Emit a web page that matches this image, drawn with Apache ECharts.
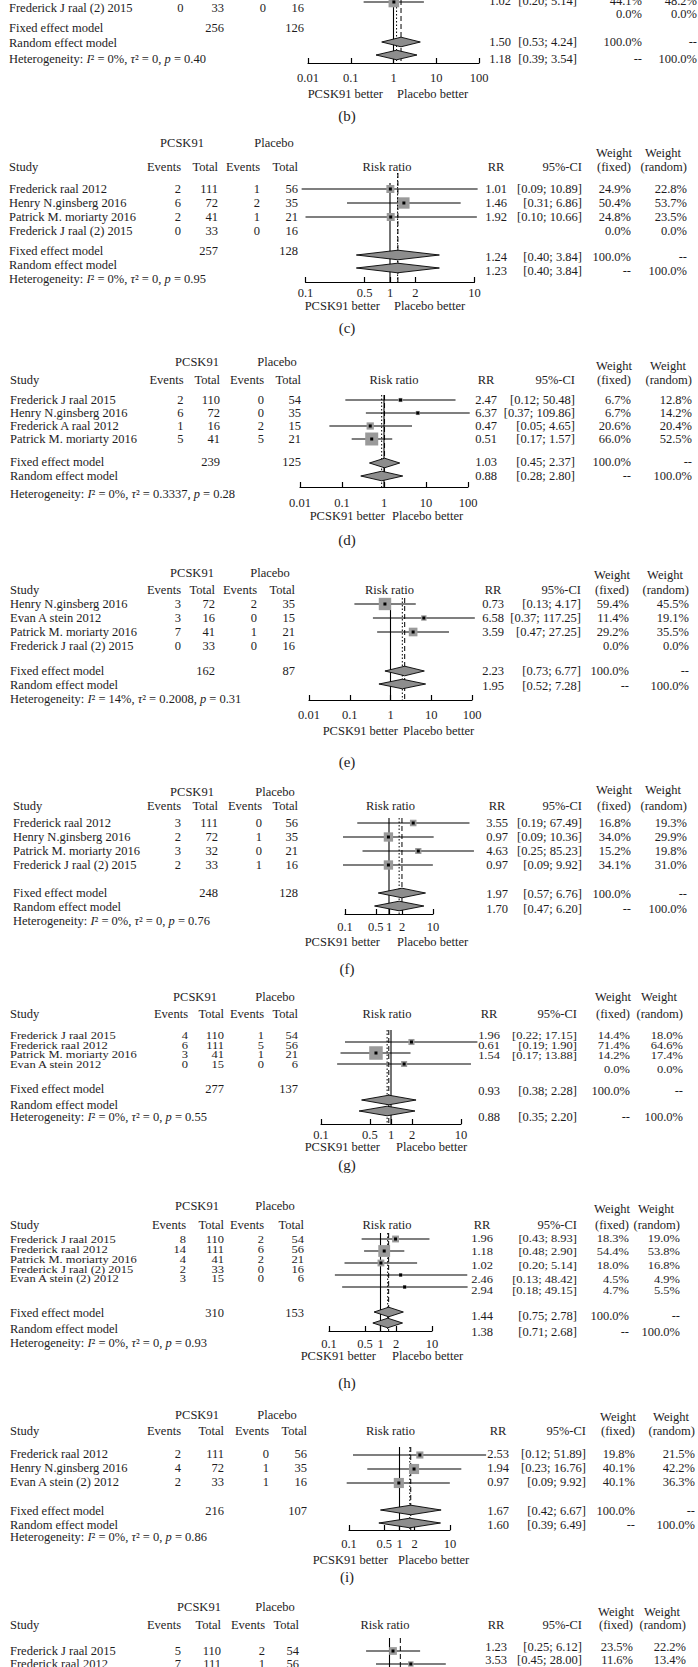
<!DOCTYPE html>
<html><head><meta charset="utf-8">
<script src="https://cdn.jsdelivr.net/npm/echarts@6/dist/echarts.min.js"></script>
<style>html,body{margin:0;padding:0;background:#fff}#chart{width:698px;height:1667px}</style>
</head><body><div id="chart"></div>
<script>
// ===================== DATA =====================
const ticksWide = [0.01, 0.1, 1, 10, 100];
const ticksNarrow = [0.1, 0.5, 1, 2, 10];
// row: [study, eventsPCSK, totalPCSK, eventsPlacebo, totalPlacebo, RR, lo, hi, weightFixed, weightRandom]
const rowsB = [
  [null, null, null, null, null, 1.02, 0.20, 5.14, 44.1, 48.2],
  ['Frederick J raal (2) 2015', 0, 33, 0, 16, null, null, null, 0.0, 0.0]
];
const totalsB = [256, 126];
const fixedB = [1.50, 0.53, 4.24];
const randomB = [1.18, 0.39, 3.54];
const hetB = ['0%', '0', '0.40'];

const rowsC = [
  ['Frederick raal 2012', 2, 111, 1, 56, 1.01, 0.09, 10.89, 24.9, 22.8],
  ['Henry N.ginsberg 2016', 6, 72, 2, 35, 1.46, 0.31, 6.86, 50.4, 53.7],
  ['Patrick M. moriarty 2016', 2, 41, 1, 21, 1.92, 0.10, 10.66, 24.8, 23.5],
  ['Frederick J raal (2) 2015', 0, 33, 0, 16, null, null, null, 0.0, 0.0]
];
const markEstC = [1.01, 1.46, 1.02, null]; // square positions as drawn in the picture
const totalsC = [257, 128];
const fixedC = [1.24, 0.40, 3.84];
const randomC = [1.23, 0.40, 3.84];
const hetC = ['0%', '0', '0.95'];

const rowsD = [
  ['Frederick J raal 2015', 2, 110, 0, 54, 2.47, 0.12, 50.48, 6.7, 12.8],
  ['Henry N.ginsberg 2016', 6, 72, 0, 35, 6.37, 0.37, 109.86, 6.7, 14.2],
  ['Frederick A raal 2012', 1, 16, 2, 15, 0.47, 0.05, 4.65, 20.6, 20.4],
  ['Patrick M. moriarty 2016', 5, 41, 5, 21, 0.51, 0.17, 1.57, 66.0, 52.5]
];
const totalsD = [239, 125];
const fixedD = [1.03, 0.45, 2.37];
const randomD = [0.88, 0.28, 2.80];
const hetD = ['0%', '0.3337', '0.28'];

const rowsE = [
  ['Henry N.ginsberg 2016', 3, 72, 2, 35, 0.73, 0.13, 4.17, 59.4, 45.5],
  ['Evan A stein 2012', 3, 16, 0, 15, 6.58, 0.37, 117.25, 11.4, 19.1],
  ['Patrick M. moriarty 2016', 7, 41, 1, 21, 3.59, 0.47, 27.25, 29.2, 35.5],
  ['Frederick J raal (2) 2015', 0, 33, 0, 16, null, null, null, 0.0, 0.0]
];
const totalsE = [162, 87];
const fixedE = [2.23, 0.73, 6.77];
const randomE = [1.95, 0.52, 7.28];
const hetE = ['14%', '0.2008', '0.31'];

const rowsF = [
  ['Frederick raal 2012', 3, 111, 0, 56, 3.55, 0.19, 67.49, 16.8, 19.3],
  ['Henry N.ginsberg 2016', 2, 72, 1, 35, 0.97, 0.09, 10.36, 34.0, 29.9],
  ['Patrick M. moriarty 2016', 3, 32, 0, 21, 4.63, 0.25, 85.23, 15.2, 19.8],
  ['Frederick J raal (2) 2015', 2, 33, 1, 16, 0.97, 0.09, 9.92, 34.1, 31.0]
];
const totalsF = [248, 128];
const fixedF = [1.97, 0.57, 6.76];
const randomF = [1.70, 0.47, 6.20];
const hetF = ['0%', '0', '0.76'];

const rowsG = [
  ['Frederick J raal 2015', 4, 110, 1, 54, 1.96, 0.22, 17.15, 14.4, 18.0],
  ['Frederick raal 2012', 6, 111, 5, 56, 0.61, 0.19, 1.90, 71.4, 64.6],
  ['Patrick M. moriarty 2016', 3, 41, 1, 21, 1.54, 0.17, 13.88, 14.2, 17.4],
  ['Evan A stein 2012', 0, 15, 0, 6, null, null, null, 0.0, 0.0]
];
const totalsG = [277, 137];
const fixedG = [0.93, 0.38, 2.28];
const randomG = [0.88, 0.35, 2.20];
const hetG = ['0%', '0', '0.55'];

const rowsH = [
  ['Frederick J raal 2015', 8, 110, 2, 54, 1.96, 0.43, 8.93, 18.3, 19.0],
  ['Frederick raal 2012', 14, 111, 6, 56, 1.18, 0.48, 2.90, 54.4, 53.8],
  ['Patrick M. moriarty 2016', 4, 41, 2, 21, 1.02, 0.20, 5.14, 18.0, 16.8],
  ['Frederick J raal (2) 2015', 2, 33, 0, 16, 2.46, 0.13, 48.42, 4.5, 4.9],
  ['Evan A stein (2) 2012', 3, 15, 0, 6, 2.94, 0.18, 49.15, 4.7, 5.5]
];
const totalsH = [310, 153];
const fixedH = [1.44, 0.75, 2.78];
const randomH = [1.38, 0.71, 2.68];
const hetH = ['0%', '0', '0.93'];

const rowsI = [
  ['Frederick raal 2012', 2, 111, 0, 56, 2.53, 0.12, 51.89, 19.8, 21.5],
  ['Henry N.ginsberg 2016', 4, 72, 1, 35, 1.94, 0.23, 16.76, 40.1, 42.2],
  ['Evan A stein (2) 2012', 2, 33, 1, 16, 0.97, 0.09, 9.92, 40.1, 36.3]
];
const totalsI = [216, 107];
const fixedI = [1.67, 0.42, 6.67];
const randomI = [1.60, 0.39, 6.49];
const hetI = ['0%', '0', '0.86'];

const rowsJ = [
  ['Frederick J raal 2015', 5, 110, 2, 54, 1.23, 0.25, 6.12, 23.5, 22.2],
  ['Frederick raal 2012', 7, 111, 1, 56, 3.53, 0.45, 28.00, 11.6, 13.4]
];
const summaryLineJ = 1.9; // dashed summary line position

// ===================== LAYOUT =====================
const layoutB = { range:[0.01,100], px:[308,479], gridTop:0,
  cols:{study:9, ev1:183.5, tot1:224, ev2:266, tot2:304, rr:511, ci:577, wf:642, wr:697},
  text:[-6,8], mark:[2,8], stat:[1,14], fixT:28, fixM:42, fixS:42, ranT:43, ranM:55, ranS:59, het:59,
  axisY:63, tickY:77, betterY:94, betterR:383, betterL:397, letterY:116, refTop:0, dashTop:0 };
const layoutC = { range:[0.1,10], px:[305.5,474.5], gridTop:140, hdr1:143, wt1:153, hdr2:167, riskX:387, pcsk:182, plac:274,
  cols:{study:9, ev1:181, tot1:218, ev2:260, tot2:298, rr:507, ci:582, wf:631, wr:687},
  text:[189,203,217,231], mark:[189,203,217,231], stat:[189,203,217,231],
  fixT:251, fixM:255, fixS:257, ranT:265, ranM:268, ranS:271, het:279,
  axisY:282, tickY:292, betterY:306, betterR:380, betterL:394, letterY:328, refTop:183, dashTop:173 };
const layoutD = { range:[0.01,100], px:[300,468], gridTop:360, hdr1:362, wt1:366, hdr2:380, riskX:394, pcsk:197, plac:277,
  cols:{study:10, ev1:183.5, tot1:220, ev2:264, tot2:301, rr:497, ci:575, wf:631, wr:692},
  text:[400,413,426,439], mark:[400,413,426,439], stat:[400,413,426,439],
  fixT:462, fixM:463, fixS:462, ranT:476, ranM:476, ranS:476, het:494,
  axisY:487, tickY:502, betterY:516, betterR:385, betterL:392, letterY:540, refTop:395, dashTop:395 };
const layoutE = { range:[0.01,100], px:[309,472], gridTop:570, hdr1:573, wt1:575, hdr2:590, riskX:389.5, pcsk:192, plac:270,
  cols:{study:10, ev1:181, tot1:215, ev2:257, tot2:295, rr:504, ci:581, wf:629, wr:689},
  text:[604,618,632,646], mark:[604,618,632,646], stat:[604,618,632,646],
  fixT:671, fixM:671, fixS:671, ranT:685, ranM:684, ranS:686, het:699,
  axisY:700, tickY:714, betterY:731, betterR:398, betterL:403, letterY:762, refTop:598, dashTop:598 };
const layoutF = { range:[0.1,10], px:[345,433], gridTop:788, hdr1:792, wt1:790, hdr2:806, riskX:390.5, pcsk:192, plac:275,
  cols:{study:13, ev1:181, tot1:218, ev2:262, tot2:298, rr:508, ci:582, wf:631, wr:687},
  text:[823,837,851,865], mark:[823,837,851,865], stat:[823,837,851,865],
  fixT:893, fixM:893, fixS:894, ranT:907, ranM:906, ranS:909, het:921,
  axisY:914, tickY:926, betterY:942, betterR:380, betterL:397, letterY:969, refTop:818, dashTop:818 };
const layoutG = { range:[0.1,10], px:[321,461], gridTop:995, hdr1:997, wt1:997, hdr2:1014, riskX:387, pcsk:195, plac:275,
  cols:{study:10, ev1:188, tot1:224, ev2:264, tot2:298, rr:500, ci:577, wf:630, wr:683},
  text:[1035,1045,1054,1064], mark:[1042,1053,1064,1075], stat:[1035,1045,1055,1069], squeezeText:0.8, squeezeStat:0.82,
  fixT:1089, fixM:1100, fixS:1091, ranT:1105, ranM:1111, ranS:1117, het:1117,
  axisY:1124, tickY:1134, betterY:1147, betterR:380, betterL:396, letterY:1165, refTop:1030, dashTop:1030 };
const layoutH = { range:[0.1,10], px:[329,432], gridTop:1204, hdr1:1206, wt1:1209, hdr2:1225, riskX:387, pcsk:197, plac:275,
  cols:{study:10, ev1:186, tot1:224, ev2:264, tot2:304, rr:493, ci:577, wf:629, wr:680},
  text:[1239,1249,1259,1269,1278], mark:[1239,1251,1263,1275,1287], stat:[1239,1252,1266,1280,1291], squeezeText:0.8, squeezeStat:0.86,
  fixT:1313, fixM:1312, fixS:1316, ranT:1329, ranM:1323, ranS:1332, het:1343,
  axisY:1331, tickY:1343, betterY:1356, betterR:376, betterL:392, letterY:1383, refTop:1233, dashTop:1233 };
const layoutI = { range:[0.1,10], px:[349,450], gridTop:1412, hdr1:1415, wt1:1417, hdr2:1431, riskX:390.5, pcsk:197, plac:277,
  cols:{study:10, ev1:181, tot1:224, ev2:269, tot2:307, rr:509, ci:586, wf:635, wr:695},
  text:[1454,1468,1482], mark:[1455,1469,1483], stat:[1454,1468,1482],
  fixT:1511, fixM:1510, fixS:1511, ranT:1525, ranM:1523, ranS:1525, het:1537,
  axisY:1530, tickY:1543, betterY:1560, betterR:388, betterL:398, letterY:1577, refTop:1447, dashTop:1447 };
const layoutJ = { range:[0.01,100], px:[311.7,467.3], gridTop:1604, hdr1:1607, wt1:1612, hdr2:1625, riskX:385, pcsk:199, plac:275,
  cols:{study:10, ev1:181, tot1:221, ev2:265, tot2:299, rr:507, ci:582, wf:633, wr:686},
  text:[1651,1664], mark:[1651,1664], stat:[1647,1660],
  axisY:1760, tickY:1770, refTop:1638, dashTop:1638 };

const panels = [
  { rows: rowsB, totals: totalsB, fixed: fixedB, random: randomB, het: hetB, ticks: ticksWide, letter: '(b)', L: layoutB },
  { rows: rowsC, est: markEstC, totals: totalsC, fixed: fixedC, random: randomC, het: hetC, ticks: ticksNarrow, letter: '(c)', L: layoutC },
  { rows: rowsD, totals: totalsD, fixed: fixedD, random: randomD, het: hetD, ticks: ticksWide, letter: '(d)', L: layoutD },
  { rows: rowsE, totals: totalsE, fixed: fixedE, random: randomE, het: hetE, ticks: ticksWide, letter: '(e)', L: layoutE },
  { rows: rowsF, totals: totalsF, fixed: fixedF, random: randomF, het: hetF, ticks: ticksNarrow, letter: '(f)', L: layoutF },
  { rows: rowsG, totals: totalsG, fixed: fixedG, random: randomG, het: hetG, ticks: ticksNarrow, letter: '(g)', L: layoutG },
  { rows: rowsH, totals: totalsH, fixed: fixedH, random: randomH, het: hetH, ticks: ticksNarrow, letter: '(h)', L: layoutH },
  { rows: rowsI, totals: totalsI, fixed: fixedI, random: randomI, het: hetI, ticks: ticksNarrow, letter: '(i)', L: layoutI },
  { rows: rowsJ, refLine: summaryLineJ, ticks: ticksWide, L: layoutJ }
];

// ===================== STYLE =====================
const FONT = '"Liberation Serif", "Times New Roman", "DejaVu Serif", serif';
const FS = 12.5;
const INK = '#1e1c1d';
const SQ_FILL = '#9a9a9a';
const DIA_FILL = '#8d8d8d';
const SQ_K = 1.6;
const LETTER_X = 347;

// ===================== BUILD =====================
const graphics = [];
function T(x, y, text, align, extra, sy) {
  const el = { type: 'text', silent: true, z: 10, x: x, y: y,
    style: Object.assign({ x: 0, y: 0, text: String(text), fill: INK, fontFamily: FONT, fontSize: FS,
      textAlign: align || 'left', align: align || 'left', textVerticalAlign: 'middle', verticalAlign: 'middle' }, extra || {}) };
  if (sy && sy !== 1) el.scaleY = sy;
  graphics.push(el);
}
const f2 = v => v.toFixed(2);
const ciTxt = (lo, hi) => '[' + f2(lo) + '; ' + f2(hi) + ']';
const pct = v => v.toFixed(1) + '%';

const grids = [], xAxes = [], yAxes = [], series = [];

panels.forEach((p, k) => {
  const L = p.L, C = L.cols, top = L.gridTop;
  const yv = py => py - top;

  grids.push({ left: L.px[0], width: L.px[1] - L.px[0], top: top, height: L.axisY - top,
    containLabel: false, outerBoundsMode: 'none', show: false });
  xAxes.push({ gridIndex: k, type: 'log', logBase: 10, min: L.range[0], max: L.range[1], position: 'bottom',
    axisLine: { show: true, onZero: false, lineStyle: { color: '#000', width: 1.2 } },
    axisTick: { show: true, inside: true, length: 5, customValues: p.ticks, lineStyle: { color: '#000', width: 1.2 } },
    axisLabel: { show: true, customValues: p.ticks, margin: L.tickY - L.axisY - 6,
      formatter: v => String(Number(Number(v).toPrecision(6))),
      fontFamily: FONT, fontSize: FS, color: INK },
    splitLine: { show: false }, minorTick: { show: false }, minorSplitLine: { show: false } });
  yAxes.push({ gridIndex: k, type: 'value', min: 0, max: L.axisY - top, inverse: true, show: false });

  // study CI rows
  const ciData = [];
  p.rows.forEach((r, i) => {
    if (r[5] == null) return;
    const est = p.est ? p.est[i] : r[5];
    ciData.push([est, r[6], r[7], yv(L.mark[i]), r[8]]);
  });
  series.push({ type: 'custom', xAxisIndex: k, yAxisIndex: k, silent: true, z: 5,
    encode: { x: [0, 1, 2], y: 3 }, data: ciData,
    renderItem: (params, api) => {
      const est = api.value(0), lo = api.value(1), hi = api.value(2), y = api.value(3), w = api.value(4);
      const a = api.coord([lo, y]), b = api.coord([hi, y]), c = api.coord([est, y]);
      const s = Math.max(3, SQ_K * Math.sqrt(w));
      return { type: 'group', children: [
        { type: 'line', shape: { x1: a[0], y1: a[1], x2: b[0], y2: b[1] }, style: { stroke: '#000', lineWidth: 1.2 } },
        { type: 'rect', shape: { x: c[0] - s / 2, y: c[1] - s / 2, width: s, height: s }, style: { fill: SQ_FILL } },
        { type: 'rect', shape: { x: c[0] - 1.5, y: c[1] - 1.5, width: 3, height: 3 }, style: { fill: '#000' } }
      ] };
    } });

  // summary diamonds
  if (p.fixed) {
    const dData = [
      [p.fixed[0], p.fixed[1], p.fixed[2], yv(L.fixM)],
      [p.random[0], p.random[1], p.random[2], yv(L.ranM)]
    ];
    series.push({ type: 'custom', xAxisIndex: k, yAxisIndex: k, silent: true, z: 6,
      encode: { x: [0, 1, 2], y: 3 }, data: dData,
      renderItem: (params, api) => {
        const est = api.value(0), lo = api.value(1), hi = api.value(2), y = api.value(3);
        const a = api.coord([lo, y]), b = api.coord([hi, y]), c = api.coord([est, y]);
        const h = 4.8;
        return { type: 'polygon', shape: { points: [[a[0], a[1]], [c[0], c[1] - h], [b[0], b[1]], [c[0], c[1] + h]] },
          style: { fill: DIA_FILL, stroke: '#000', lineWidth: 0.9 } };
      } });
  }

  // vertical reference lines: no effect (solid), fixed (dashed), random (dotted)
  const vData = [[1, yv(L.refTop), yv(L.axisY), 0]];
  if (p.fixed) {
    vData.push([p.fixed[0], yv(L.dashTop), yv(L.axisY), 1]);
    vData.push([p.random[0], yv(L.dashTop), yv(L.axisY), 2]);
  }
  if (p.refLine) vData.push([p.refLine, yv(L.dashTop), yv(L.axisY), 1]);
  series.push({ type: 'custom', xAxisIndex: k, yAxisIndex: k, silent: true, z: 4,
    encode: { x: 0, y: [1, 2] }, data: vData,
    renderItem: (params, api) => {
      const x = api.value(0), y1 = api.value(1), y2 = api.value(2), kind = api.value(3);
      const a = api.coord([x, y1]), b = api.coord([x, y2]);
      const dash = kind === 0 ? null : (kind === 1 ? [5, 3] : [1.5, 2]);
      return { type: 'line', shape: { x1: a[0], y1: a[1], x2: b[0], y2: b[1] },
        style: { stroke: '#000', lineWidth: kind === 0 ? 1.1 : 1, lineDash: dash } };
    } });

  // ---- texts ----
  if (L.hdr1 != null) {
    T(L.pcsk, L.hdr1, 'PCSK91', 'center');
    T(L.plac, L.hdr1, 'Placebo', 'center');
    T(C.wf - 17, L.wt1, 'Weight', 'center');
    T(C.wr - 24, L.wt1, 'Weight', 'center');
    T(C.study, L.hdr2, 'Study', 'left');
    T(C.ev1, L.hdr2, 'Events', 'right');
    T(C.tot1, L.hdr2, 'Total', 'right');
    T(C.ev2, L.hdr2, 'Events', 'right');
    T(C.tot2, L.hdr2, 'Total', 'right');
    T(L.riskX, L.hdr2, 'Risk ratio', 'center');
    T(C.rr - 11, L.hdr2, 'RR', 'center');
    T(C.ci, L.hdr2, '95%-CI', 'right');
    T(C.wf, L.hdr2, '(fixed)', 'right');
    T(C.wr, L.hdr2, '(random)', 'right');
  }
  const sqT = L.squeezeText || 1, sqS = L.squeezeStat || 1;
  p.rows.forEach((r, i) => {
    const ty = L.text[i], sy = L.stat[i];
    if (r[0] != null) {
      T(C.study, ty, r[0], 'left', null, sqT);
      T(C.ev1, ty, r[1], 'right', null, sqT);
      T(C.tot1, ty, r[2], 'right', null, sqT);
      T(C.ev2, ty, r[3], 'right', null, sqT);
      T(C.tot2, ty, r[4], 'right', null, sqT);
    }
    if (r[5] != null) {
      T(C.rr, sy, f2(r[5]), 'right', null, sqS);
      T(C.ci, sy, ciTxt(r[6], r[7]), 'right', null, sqS);
    }
    T(C.wf, sy, pct(r[8]), 'right', null, sqS);
    T(C.wr, sy, pct(r[9]), 'right', null, sqS);
  });
  if (p.fixed) {
    T(C.study, L.fixT, 'Fixed effect model', 'left');
    T(C.tot1, L.fixT, p.totals[0], 'right');
    T(C.tot2, L.fixT, p.totals[1], 'right');
    T(C.rr, L.fixS, f2(p.fixed[0]), 'right');
    T(C.ci, L.fixS, ciTxt(p.fixed[1], p.fixed[2]), 'right');
    T(C.wf, L.fixS, '100.0%', 'right');
    T(C.wr, L.fixS, '--', 'right');
    T(C.study, L.ranT, 'Random effect model', 'left');
    T(C.rr, L.ranS, f2(p.random[0]), 'right');
    T(C.ci, L.ranS, ciTxt(p.random[1], p.random[2]), 'right');
    T(C.wf, L.ranS, '--', 'right');
    T(C.wr, L.ranS, '100.0%', 'right');
    T(C.study, L.het, 'Heterogeneity: {it|I}\u00b2 = ' + p.het[0] + ', {it|\u03c4}\u00b2 = ' + p.het[1] + ', {it|p} = ' + p.het[2], 'left',
      { rich: { it: { fontStyle: 'italic', fontFamily: FONT, fontSize: FS, fill: INK } } });
    T(L.betterR, L.betterY, 'PCSK91 better', 'right');
    T(L.betterL, L.betterY, 'Placebo better', 'left');
    T(LETTER_X, L.letterY, p.letter, 'center', { fontSize: 15 });
  }
});

const chart = echarts.init(document.getElementById('chart'), null, { renderer: 'svg', width: 698, height: 1667 });
chart.setOption({
  animation: false,
  backgroundColor: '#ffffff',
  grid: grids,
  xAxis: xAxes,
  yAxis: yAxes,
  series: series,
  graphic: { elements: graphics }
});
</script></body></html>
